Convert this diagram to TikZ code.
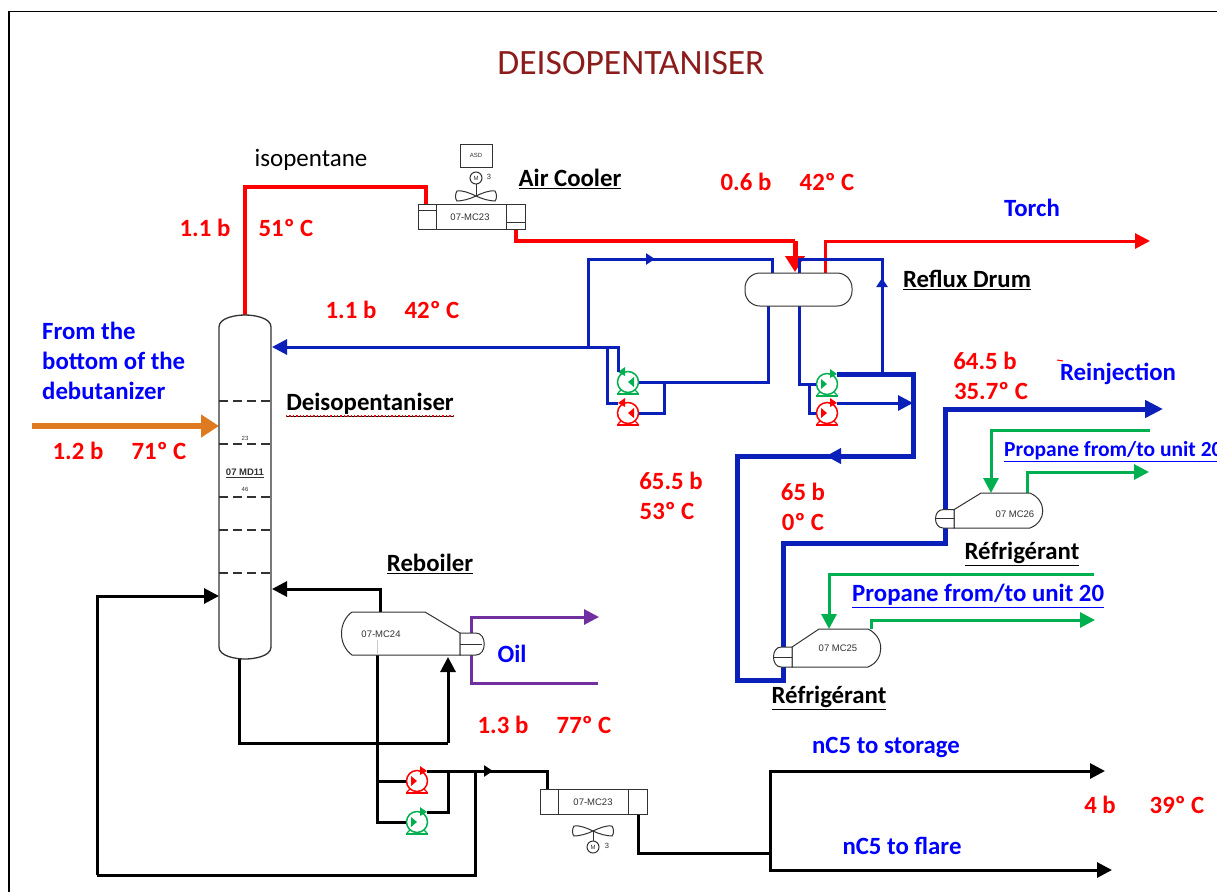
\documentclass[tikz,border=0pt]{standalone}
\usepackage{fontspec}
\setmainfont{Carlito}
\newfontfamily\tagfont{Liberation Sans}
\usetikzlibrary{arrows.meta}
\definecolor{pipeblue}{RGB}{10,32,185}
\definecolor{pipegreen}{RGB}{0,176,80}
\definecolor{oilpurple}{RGB}{112,48,160}
\definecolor{feedorange}{RGB}{224,122,32}
\definecolor{titlered}{RGB}{140,28,28}
\definecolor{vesselgray}{RGB}{50,50,50}
\tikzset{
  hotpipe/.style={draw=red,line width=4pt},
  hotthin/.style={draw=red,line width=3pt},
  bluepipe/.style={draw=pipeblue,line width=3pt},
  bluethick/.style={draw=pipeblue,line width=5pt},
  greenpipe/.style={draw=pipegreen,line width=3pt},
  oilpipe/.style={draw=oilpurple,line width=3pt},
  blackpipe/.style={draw=black,line width=3pt},
  bigtip/.style={-{Triangle[length=16pt,width=19pt]}},
  midtip/.style={-{Triangle[length=15pt,width=15pt]}},
  smalltip/.style={-{Triangle[length=9pt,width=11pt]}},
  vessel/.style={draw=vesselgray,line width=1pt},
  pumpcirc/.style={circle,line width=1.5pt,inner sep=0pt,minimum size=21pt},
  redlbl/.style={text=red,font=\fontsize{24.8}{27}\selectfont\bfseries},
  bluelbl/.style={text=blue,font=\fontsize{24.8}{27}\selectfont\bfseries},
  blacklbl/.style={text=black,font=\fontsize{24.8}{27}\selectfont\bfseries},
  tagtxt/.style={text=vesselgray,font=\tagfont\fontsize{9.5}{11}\selectfont},
  trayline/.style={draw=vesselgray,line width=1.1pt,dash pattern=on 9pt off 5pt}
}
\newcommand{\pumpunit}[5]{\node[pumpcirc,draw=#4](#1)at(#2,#3){};
\begin{scope}[shift={(#2,#3)},xscale=#5,#4]
\coordinate(#1-in)at(11,0);\coordinate(#1-out)at(-10,-10);
\fill(0,0)--(6,-5)--(6,5)--cycle;
\fill(-10,-10)--(-3,-15)--(-3,-6)--cycle;
\draw[line width=1.2pt](-7,8)--(-10,11)(7,8)--(10,11);
\draw[line width=2pt](-11,11.5)--(11,11.5);
\end{scope}}
\newcommand{\chillerunit}[5]{\begin{scope}[shift={(#2,#3)},yscale=#5]
\draw[vessel,fill=white](0,0)--(76,0)..controls(93,-7)and(93,-30)..(76,-38)--(27,-38)--(0,-20)--cycle;
\draw[vessel,fill=white](0,-20)--(-11,-20)..controls(-21,-20)and(-21,0)..(-11,0)--(0,0)--cycle;
\draw[vessel](-19,-10)--(0,-10);
\end{scope}}
\newcommand{\fanblade}[1]{\begin{scope}[shift={(#1)}]
\draw[vessel,fill=white](0,0)..controls(-6,-3)and(-14,-6)..(-19,-5)..controls(-21,-2)and(-21,3)..(-19,5)..controls(-14,5)and(-6,3)..(0,0)
..controls(6,-3)and(14,-6)..(19,-5)..controls(21,-2)and(21,3)..(19,5)..controls(14,5)and(6,3)..(0,0);
\end{scope}}
\begin{document}
\begin{tikzpicture}[x=1pt,y=-1pt]
\clip(0,0)rectangle(1217,892);
\fill[white](0,0)rectangle(1217,892);
\draw[line width=1.8pt](9,892)--(9,11.5)--(1217,11.5);
\node[minimum width=52pt,minimum height=344pt,inner sep=0pt](column)at(245,487){};
\foreach \name/\x/\y in {crA/426/187,coolerTopIn/426/204,coolerTopOut/516/229,crB/795/241,drumIn/795/272,drumGas/825/273,torchEnd/1150/241,
drumTopA/772/273,crD/588/259,jA/588/347,tipD/655/259,colReflux/272/347,jC/607/347,drumBotA/768/306,jD/664/382,drumBotB/799/306,jE/809/384,
crE/913/456,crF/737/456,crG/783/680,chillInA/783/665,tipE/826/456,jF/913/403,jG/882/374,crI/882/259,drumTopB/799/273,tipG/882/278,
chillOutA/783/647,crJ/945/543,chillInB/945/528,chillOutB/945/512,reinjEnd/1163/409,propInB/1150/430,chillGreenInB/991/493,chillGreenOutB/1027/493,propOutB/1149/472,
propInA/1094/574,chillGreenInA/829/629,chillGreenOutA/871/629,propOutA/1095/620,oilOut/471/633,oilEnd/599/617,oilIn/471/655,oilStart/598/683,
rebTop/380/612,colBoil/272/589,rebBot/377/655,jH/377/781,colBot/239/659,crK/448/743,rebIn/448/657,coolInB/547/789,jI/448/771,tipI/493/771,
jJ/475/771,crL/97/875,colRet/219/596,coolOutB/638/814,jK/770/853,storageEnd/1105/771,flareEnd/1112/870,feedStart/32/426,feedEnd/219/426}
\coordinate(\name)at(\x,\y);
\pumpunit{pumpGL}{628}{382}{pipegreen}{1}
\pumpunit{pumpRL}{628}{413}{red}{1}
\pumpunit{pumpGR}{827}{384}{pipegreen}{-1}
\pumpunit{pumpRR}{827}{413}{red}{-1}
\pumpunit{pumpRB}{417}{781}{red}{-1}
\pumpunit{pumpGB}{417}{822}{pipegreen}{-1}
\draw[hotpipe](column.north)|-(crA)--(coolerTopIn);
\draw[hotpipe](coolerTopOut)|-(crB);
\draw[hotpipe,line width=5pt,bigtip](crB)--(drumIn);
\draw[hotthin,midtip](drumGas)|-(torchEnd);
\draw[bluepipe](drumTopA)|-(crD)--(jA);
\draw[bluepipe,smalltip](crD)--(tipD);
\draw[bluepipe,midtip](pumpGL-out)|-(colReflux);
\draw[bluepipe](jC)|-(pumpRL-out);
\draw[bluepipe](pumpGL-in)-|(drumBotA);
\draw[bluepipe](jD)|-(pumpRL-in);
\draw[bluepipe](drumBotB)|-(pumpGR-in);
\draw[bluepipe](jE)|-(pumpRR-in);
\draw[bluethick](pumpGR-out)-|(crE)--(crF)|-(crG)--(chillInA);
\draw[bluethick,midtip](crE)--(tipE);
\draw[bluepipe,midtip](pumpRR-out)--(jF);
\draw[bluepipe](jG)--(crI)-|(drumTopB);
\draw[bluepipe,smalltip](jG)--(tipG);
\draw[bluethick](chillOutA)|-(crJ)--(chillInB);
\draw[bluethick,-{Triangle[length=18pt,width=17pt]}](chillOutB)|-(reinjEnd);
\draw[greenpipe,midtip](propInB)-|(chillGreenInB);
\draw[greenpipe,midtip](chillGreenOutB)|-(propOutB);
\draw[greenpipe,midtip](propInA)-|(chillGreenInA);
\draw[greenpipe,midtip](chillGreenOutA)|-(propOutA);
\draw[oilpipe,midtip](oilOut)|-(oilEnd);
\draw[oilpipe](oilIn)|-(oilStart);
\draw[blackpipe,midtip](rebTop)|-(colBoil);
\draw[blackpipe](rebBot)|-(pumpGB-in);
\draw[blackpipe](jH)--(pumpRB-in);
\draw[blackpipe](colBot)|-(crK);
\draw[blackpipe,midtip](crK)--(rebIn);
\draw[blackpipe](pumpRB-out)-|(coolInB);
\draw[blackpipe](pumpGB-out)-|(jI);
\draw[blackpipe,smalltip](jI)--(tipI);
\draw[blackpipe](jJ)|-(crL);
\draw[blackpipe,midtip](crL)|-(colRet);
\draw[blackpipe](coolOutB)|-(jK);
\draw[blackpipe,midtip](jK)|-(storageEnd);
\draw[blackpipe,midtip](jK)|-(flareEnd);
\draw[draw=feedorange,line width=6pt,-{Triangle[length=18pt,width=22pt]}](feedStart)--(feedEnd);
\draw[vessel,line width=1.3pt](219,327)..controls(219,318)and(235,315)..(245,315)..controls(255,315)and(271,318)..(271,327)--(271,647)
..controls(271,656)and(255,659)..(245,659)..controls(235,659)and(219,656)..(219,647)--cycle;
\foreach \y in {401,444,497,530,573}\draw[trayline](219,\y)--(271,\y);
\node[tagtxt,font=\tagfont\fontsize{6}{7}\selectfont](trayTop)at(245,438){23};
\node[tagtxt,font=\tagfont\fontsize{9.5}{11}\selectfont\bfseries](tagColumn)at(245,473){\underline{07 MD11}};
\node[tagtxt,font=\tagfont\fontsize{6}{7}\selectfont](trayBot)at(245,489){46};
\node[vessel,rounded corners=15pt,minimum width=107pt,minimum height=33pt,fill=white](drum)at(798.5,289.5){};
\chillerunit{tagChillA}{792}{667}{07 MC25}{1}
\chillerunit{tagChillB}{954}{528}{07 MC26}{.92}
\node[tagtxt](tagChillA)at(838,648){07 MC25};
\node[tagtxt](tagChillB)at(1015,514){07 MC26};
\draw[vessel,fill=white](352,612)--(425,612)--(460,633)--(460,655)--(352,655)..controls(338,645)and(338,622)..(352,612);
\draw[vessel,fill=white](460,633)--(476,633)..controls(487,633)and(487,655)..(476,655)--(460,655)--cycle;
\draw[vessel](460,644)--(482,644);
\draw[gray!40,line width=1pt](377,640)--(377,655);
\node[tagtxt](tagReb)at(381,634){07-MC24};
\draw[vessel,fill=white](418,204)rectangle(525,229);
\draw[vessel](436,204)--(436,229)(506,204)--(506,229)(418,210)--(436,210)(506,222)--(525,222);
\node[tagtxt](tagCoolA)at(470,217){07-MC23};
\fanblade{476,196}
\draw[vessel](476,184)--(476,196);
\node[vessel,circle,inner sep=0pt,minimum size=12pt,text=vesselgray,font=\tagfont\fontsize{6}{7}\selectfont](motorA)at(476,178){M};
\node[text=vesselgray,font=\tagfont\fontsize{7.5}{9}\selectfont](motorAn)at(489,177){3};
\node[vessel,minimum width=32pt,minimum height=23pt,inner sep=0pt,text=vesselgray,font=\tagfont\fontsize{6}{7}\selectfont](asd)at(476,155.5){ASD};
\draw[vessel,fill=white](540,789)rectangle(647,814);
\draw[vessel](558,789)--(558,814)(628,789)--(628,814);
\node[tagtxt](tagCoolB)at(593,802){07-MC23};
\fanblade{593,831}
\draw[vessel](593,831)--(593,841);
\node[vessel,circle,inner sep=0pt,minimum size=12pt,text=vesselgray,font=\tagfont\fontsize{6}{7}\selectfont](motorB)at(593,847){M};
\node[text=vesselgray,font=\tagfont\fontsize{7.5}{9}\selectfont](motorBn)at(607,846){3};
\node[text=titlered,font=\fontsize{35.6}{38}\selectfont](title)at(631,63){DEISOPENTANISER};
\node[font=\fontsize{25}{28}\selectfont](isoLbl)at(311,160){isopentane};
\foreach \name/\x/\y/\t in {pA/205/228/1.1 b,tA/286/228/51º C,pB/746/182/0.6 b,tB/827/182/42º C,pC/351/310/1.1 b,tC/432/310/42º C,
pD/78/451/1.2 b,tD/159/451/71º C,pE/985/361/64.5 b,tE/991/391/35.7º C,pF/671/481/65.5 b,tF/667/511/53º C,pG/803/492/65 b,tG/803/522/0º C,
pH/503/725/1.3 b,tH/584/725/77º C,pI/1100/805/4 b,tI/1177/805/39º C}
\node[redlbl](\name)at(\x,\y){\t};
\foreach \name/\x/\y/\t in {airLbl/570/179/Air Cooler,refluxLbl/967/280/Reflux Drum,deisoLbl/370/405/Deisopentaniser,chillLblB/1022/554/Réfrigérant,chillLblA/829/698/Réfrigérant,rebLbl/430/564/Reboiler}
\node[blacklbl](\name)at(\x,\y){\underline{\t}};
\foreach \name/\x/\y/\t in {torchLbl/1032/208/Torch,reinjLbl/1118/374/Reinjection,oilLbl/512/654/Oil,storeLbl/886/747/nC5 to storage,flareLbl/902/846/nC5 to flare}
\node[bluelbl](\name)at(\x,\y){\t};
\node[bluelbl,anchor=west,inner sep=0pt,align=left,font=\fontsize{24.8}{30}\selectfont\bfseries](fromLbl)at(42,361){From the\\bottom of the\\debutanizer};
\node[bluelbl,anchor=west,inner sep=0pt,font=\fontsize{21.5}{24}\selectfont\bfseries](propLblB)at(1004,452){\underline{Propane from/to unit 20}};
\node[bluelbl,anchor=west,inner sep=0pt,font=\fontsize{24.8}{27}\selectfont\bfseries](propLblA)at(852,596){\underline{Propane from/to unit 20}};
\draw[red,dotted,line width=1.4pt](286,416)--(453,416);
\draw[red,line width=1pt](1057,360)--(1063,361);
\end{tikzpicture}
\end{document}
